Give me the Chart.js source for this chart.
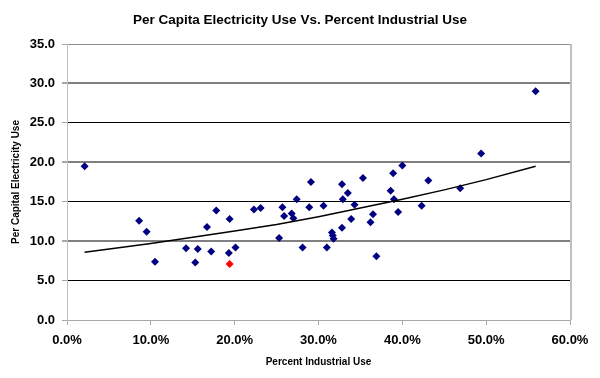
<!DOCTYPE html>
<html>
<head>
<meta charset="utf-8">
<script src="https://cdn.jsdelivr.net/npm/chart.js@4.4.1/dist/chart.umd.min.js"></script>
<style>
  html, body { margin: 0; padding: 0; background: #ffffff; }
  #wrap { width: 600px; height: 378px; position: relative; }
</style>
</head>
<body>
<div id="wrap"><canvas id="c" width="600" height="378"></canvas></div>
<script>
// Percent industrial use (x, in %) and per capita electricity use (y)
const industrialPct = [2.1, 8.6, 9.5, 10.5, 14.2, 15.3, 15.6, 16.7, 17.2, 17.8,
  19.4, 19.3, 20.1, 22.3, 23.1, 25.3, 25.7, 25.9, 26.8, 27.0,
  27.4, 28.1, 28.9, 29.1, 30.6, 31.0, 31.6, 31.7, 31.8, 32.8,
  32.8, 32.9, 33.5, 33.9, 34.3, 35.3, 36.2, 36.5, 36.9, 38.6,
  38.9, 39.0, 39.5, 40.0, 42.3, 43.1, 46.9, 49.4, 55.9];
const perCapitaUse = [19.5, 12.6, 11.2, 7.4, 9.1, 7.3, 9.0, 11.8, 8.7, 13.9,
  12.8, 8.5, 9.2, 14.0, 14.2, 10.4, 14.3, 13.2, 13.5, 12.9,
  15.3, 9.2, 14.3, 17.5, 14.5, 9.2, 11.1, 10.7, 10.3, 11.7,
  17.2, 15.3, 16.1, 12.8, 14.6, 18.0, 12.4, 13.4, 8.1, 16.4,
  18.6, 15.3, 13.7, 19.6, 14.5, 17.7, 16.7, 21.1, 29.0];
// highlighted (red) observation
const highlightPct = [19.4];
const highlightUse = [7.1];
// trend line
const trendPct = [2.1, 10, 15, 20, 25, 30, 35, 40, 45, 50, 55.9];
const trendUse = [8.6, 9.7, 10.5, 11.3, 12.1, 13.1, 14.2, 15.3, 16.5, 17.8, 19.5];
// axis ticks
const xTicks = [0, 10, 20, 30, 40, 50, 60];
const yTicks = [0, 5, 10, 15, 20, 25, 30, 35];

const toPoints = (xs, ys) => xs.map((x, i) => ({ x: x, y: ys[i] }));

const FONT = "'Liberation Sans', Arial, sans-serif";
Chart.defaults.font.family = FONT;
Chart.defaults.color = '#000000';

const frame = {
  id: 'frame',
  afterDatasetsDraw(chart) {
    const { ctx, chartArea: a } = chart;
    ctx.save();
    ctx.strokeStyle = '#c0c0c0';
    ctx.lineWidth = 2;
    ctx.beginPath();
    ctx.moveTo(a.right + 1, a.top);
    ctx.lineTo(a.right + 1, a.bottom);
    ctx.stroke();
    ctx.restore();
  }
};

new Chart(document.getElementById('c'), {
  type: 'scatter',
  data: {
    datasets: [
      {
        type: 'line',
        label: 'Trend',
        data: toPoints(trendPct, trendUse),
        borderColor: '#000000',
        borderWidth: 1.5,
        pointRadius: 0,
        fill: false,
        tension: 0,
        order: 1
      },
      {
        label: 'States',
        data: toPoints(industrialPct, perCapitaUse),
        pointStyle: 'rectRot',
        pointRadius: 4,
        pointBackgroundColor: '#000080',
        pointBorderColor: '#000080',
        borderWidth: 0,
        order: 2
      },
      {
        label: 'Highlight',
        data: toPoints(highlightPct, highlightUse),
        pointStyle: 'rectRot',
        pointRadius: 4,
        pointBackgroundColor: '#ff0000',
        pointBorderColor: '#ff0000',
        borderWidth: 0,
        order: 0
      }
    ]
  },
  options: {
    responsive: false,
    animation: false,
    devicePixelRatio: 1,
    layout: { padding: 0 },
    plugins: {
      legend: { display: false },
      tooltip: { enabled: false },
      title: {
        display: true,
        text: 'Per Capita Electricity Use Vs. Percent Industrial Use',
        font: { family: FONT, size: 13.5, weight: 'bold' },
        color: '#000000',
        padding: { top: 12, bottom: 15.8 }
      }
    },
    scales: {
      x: {
        type: 'linear',
        min: 0, max: 60,
        afterBuildTicks: s => { s.ticks = xTicks.map(v => ({ value: v })); },
        afterFit: s => { s.height = 58; },
        ticks: {
          font: { family: FONT, size: 13, weight: 'bold' },
          padding: 8,
          maxRotation: 0,
          callback: v => v.toFixed(1) + '%'
        },
        grid: {
          display: true,
          drawOnChartArea: false,
          drawTicks: true,
          tickLength: 5,
          tickColor: '#a8a8a8'
        },
        border: { display: true, color: '#a8a8a8', width: 1 },
        title: {
          display: true,
          text: 'Percent Industrial Use',
          font: { family: FONT, size: 10, weight: 'bold' },
          padding: { top: 0, bottom: 10 }
        }
      },
      y: {
        type: 'linear',
        min: 0, max: 35,
        afterBuildTicks: s => { s.ticks = yTicks.map(v => ({ value: v })); },
        afterFit: s => { s.width = 67; },
        ticks: {
          font: { family: FONT, size: 13, weight: 'bold' },
          padding: 7,
          callback: v => v.toFixed(1)
        },
        grid: {
          display: true,
          drawTicks: true,
          tickLength: 5,
          tickColor: '#a8a8a8',
          color: c => {
            const v = c.tick ? c.tick.value : 0;
            if (v === 0) return '#a8a8a8';
            if (v === 35) return '#909090';
            return (v % 10 === 0) ? '#808080' : '#000000';
          },
          lineWidth: c => {
            const v = c.tick ? c.tick.value : 0;
            if (v === 0 || v === 35) return 1;
            return (v % 10 === 0) ? 2 : 1;
          }
        },
        border: { display: true, color: '#c0c0c0', width: 1 },
        title: {
          display: true,
          text: 'Per Capital Electricity Use',
          font: { family: FONT, size: 10, weight: 'bold' },
          padding: { top: 10, bottom: 0 }
        }
      },
      yRight: {
        type: 'linear',
        position: 'right',
        display: true,
        afterFit: s => { s.width = 30; },
        ticks: { display: false },
        grid: { display: false, drawTicks: false },
        border: { display: false },
        title: { display: false }
      }
    }
  },
  plugins: [frame]
});
</script>
</body>
</html>
